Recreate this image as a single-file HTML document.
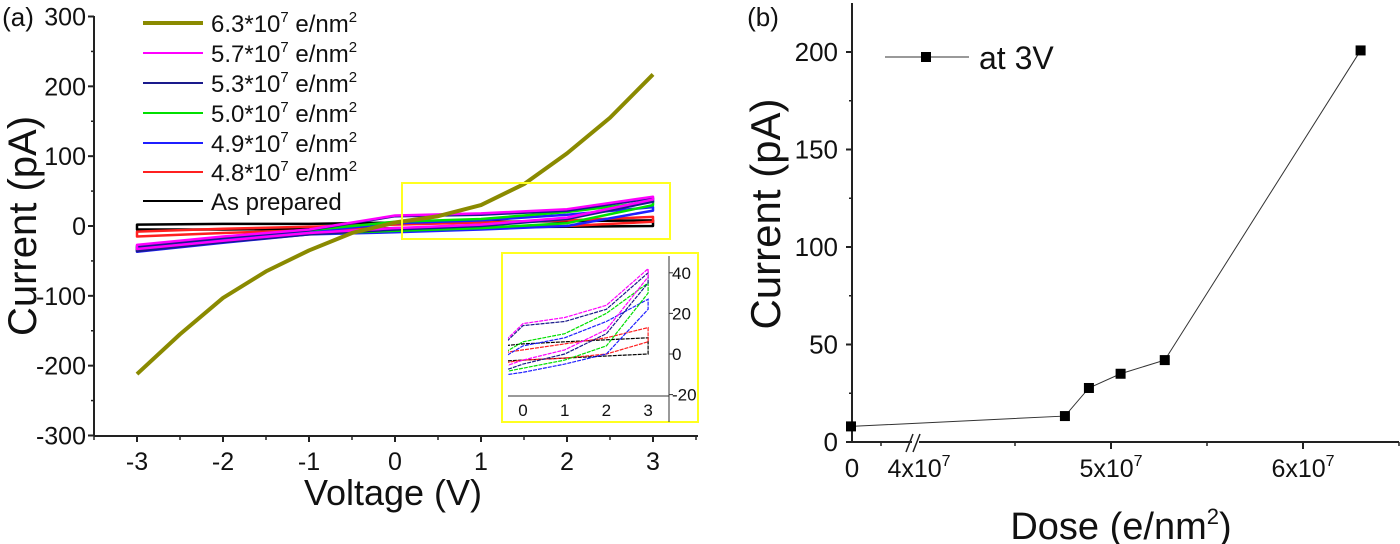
<!DOCTYPE html>
<html><head><meta charset="utf-8"><style>
body{margin:0;background:#fff}
svg{display:block;font-family:"Liberation Sans",Arial,sans-serif}
</style></head><body>
<svg id="s" width="1400" height="544" viewBox="0 0 1400 544">
<g id="gA"></g>
<g id="gB"></g>
</svg>
<script>
// ---- Panel (a) data ----
const volts = [-3,-2,-1,0,1,2,3];
const seriesNames = ["6.3*10^7","5.7*10^7","5.3*10^7","5.0*10^7","4.9*10^7","4.8*10^7","As prepared"];
const seriesColors = ["#8a8a00","#ff00ff","#1a1a8c","#00e000","#1f1fff","#ff2020","#000000"];
const olV = [-3,-2.5,-2,-1.5,-1,-0.5,0,0.5,1,1.5,2,2.5,3];
const olI = [-212,-155,-103,-65,-35,-10,5,14,30,60,104,155,217];
const magUp = [-27,-15,-5,15,18,24,42];
const magLo = [-33,-21,-10,-3,2,12,38];
const navUp = [-30,-17,-6,14,16,22,40];
const navLo = [-36,-23,-12,-5,0,10,35];
const grnUp = [-28,-16,-6,6,10,20,35];
const grnLo = [-35,-22,-11,-7,-3,4,30];
const bluUp = [-30,-18,-8,4,8,16,27];
const bluLo = [-37,-24,-12,-9,-5,0,22];
const redUp = [-8,-4,-1,2,5,8,13];
const redLo = [-15,-10,-6,-3,-2,0,6];
const blkUp = [2,3,3,5,6,7,8];
const blkLo = [-5,-5,-4,-3,-2,-1,0];
const yTicksA = [300,200,100,0,-100,-200,-300];
const xTicksA = [-3,-2,-1,0,1,2,3];
const insetYTicks = [40,20,0,-20];
const insetXTicks = [0,1,2,3];
// ---- Panel (b) data ----
const doses = [0,4.76,4.885,5.05,5.28,6.3];
const currents = [8,13.3,27.7,35,42,200.8];
const yTicksB = [0,50,100,150,200];

const NS="http://www.w3.org/2000/svg";
function mk(tag,attrs,parent,name,inter){const e=document.createElementNS(NS,tag);for(const k in attrs)e.setAttribute(k,attrs[k]);


parent.appendChild(e);return e;}
function txt(x,y,s,size,anchor,parent,name,extra){const t=mk('text',Object.assign({x:x,y:y,'font-size':size,'text-anchor':anchor||'middle',fill:'#111'},extra||{}),parent,name,false);t.innerHTML=s;return t;}
const NAR={'font-family':'"Liberation Sans Narrow","Liberation Sans",sans-serif'};

const A=document.getElementById('gA');
const xA=v=>395+v*86, yA=i=>226-i*0.6983;
mk('line',{x1:94,y1:16,x2:94,y2:436,stroke:'#222','stroke-width':2},A,'y-axis-line',false);
mk('line',{x1:94,y1:436,x2:698,y2:436,stroke:'#222','stroke-width':2},A,'x-axis-line',false);
yTicksA.forEach(v=>{const y=yA(v);mk('line',{x1:88,y1:y,x2:94,y2:y,stroke:'#222','stroke-width':2},A,'y-tick',false);
txt(86,y+9,String(v),25,'end',A,'y-tick-label',NAR);});
for(let v=-250;v<300;v+=100){const y=yA(v);mk('line',{x1:91,y1:y,x2:94,y2:y,stroke:'#222','stroke-width':1.5},A,'y-minor-tick',false);}
xTicksA.forEach(v=>{const x=xA(v);mk('line',{x1:x,y1:436,x2:x,y2:442,stroke:'#222','stroke-width':2},A,'x-tick',false);
txt(x,470,String(v),25,'middle',A,'x-tick-label',NAR);});
for(let v=-3.5;v<=3.5;v+=1){const x=xA(v);mk('line',{x1:x,y1:436,x2:x,y2:440,stroke:'#222','stroke-width':1.5},A,'x-minor-tick',false);}
txt(393,505,'Voltage (V)',36,'middle',A,'x-axis-title');
txt(0,0,'Current (pA)',40,'middle',A,'y-axis-title',{transform:'translate(36,226) rotate(-90)'});
txt(18,26,'(a)',26,'middle',A,'panel-label-a',NAR);

const loops=[[magUp,magLo],[navUp,navLo],[grnUp,grnLo],[bluUp,bluLo],[redUp,redLo],[blkUp,blkLo]];
function loopPath(up,lo,fx,fy){let d='';volts.forEach((v,i)=>{d+=(i?'L':'M')+fx(v).toFixed(1)+','+fy(lo[i]).toFixed(1);});
for(let i=volts.length-1;i>=0;i--){d+='L'+fx(volts[i]).toFixed(1)+','+fy(up[i]).toFixed(1);}return d+'Z';}
const order=[5,4,3,2,1,0];
order.forEach(k=>{const [u,l]=loops[k];mk('path',{d:loopPath(u,l,xA,yA),fill:'none',stroke:seriesColors[k+1],'stroke-width':2.5,'stroke-linejoin':'round'},A,'iv-loop-'+(k+1),false);});
let od='';olV.forEach((v,i)=>{od+=(i?'L':'M')+xA(v)+','+yA(olI[i]);});
mk('path',{d:od,fill:'none',stroke:seriesColors[0],'stroke-width':4,'stroke-linejoin':'round'},A,'iv-curve-6.3e7',false);
mk('rect',{x:402,y:183,width:268,height:56,fill:'none',stroke:'#ffff20','stroke-width':2},A,'zoom-region-box',false);
const legY=[23,53,83,113,143,172,201];
seriesNames.forEach((n,i)=>{const y=legY[i];
mk('line',{x1:143,y1:y,x2:203,y2:y,stroke:seriesColors[i],'stroke-width':i==0?4:2},A,'legend-line',false);
const lab=i==6?'As prepared':n.replace('^7','<tspan font-size="15" dy="-10">7</tspan><tspan dy="10"> e/nm</tspan><tspan font-size="15" dy="-10">2</tspan>');
txt(211,y+9,lab,24,'start',A,'legend-entry');});
// inset
const I=mk('g',{},A,'inset',false);
mk('rect',{x:502,y:253,width:196,height:169,fill:'#fff',stroke:'#ffff20','stroke-width':2},I,'inset-frame',false);
const xI=v=>523+v*41.7, yI=c=>354-c*2.03;
const cp=mk('clipPath',{id:'ic'},I,'inset-clip',false);
mk('rect',{x:508,y:258,width:161,height:136},cp,'inset-clip-rect',false);
const IC=mk('g',{'clip-path':'url(#ic)'},I,'inset-plot',false);
order.forEach(k=>{const [u,l]=loops[k];mk('path',{d:loopPath(u,l,xI,yI),fill:'none',stroke:seriesColors[k+1],'stroke-width':1.2,'stroke-dasharray':'4 1'},IC,'inset-loop-'+(k+1),false);});
mk('line',{x1:669,y1:256,x2:669,y2:422,stroke:'#333','stroke-width':1},I,'inset-y-axis',false);
mk('line',{x1:508,y1:396,x2:669,y2:396,stroke:'#333','stroke-width':1},I,'inset-x-axis',false);
insetYTicks.forEach(v=>{txt(672,yI(v)+6,String(v),17,'start',I,'inset-y-label',NAR);mk('line',{x1:669,y1:yI(v),x2:673,y2:yI(v),stroke:'#333'},I,'inset-y-tick',false);});
insetXTicks.forEach(v=>{txt(xI(v),416,String(v),17,'middle',I,'inset-x-label',NAR);});

// ---- Panel b ----
const B=document.getElementById('gB');
const yB=c=>442-c*1.95;
const xB=d=>d<1?851+d*600:919+(d-4)*192;
mk('line',{x1:852,y1:3,x2:852,y2:442,stroke:'#222','stroke-width':2},B,'y-axis-line-b',false);
mk('line',{x1:852,y1:442,x2:912,y2:442,stroke:'#222','stroke-width':2},B,'x-axis-line-b-left',false);
mk('line',{x1:919,y1:442,x2:1399,y2:442,stroke:'#222','stroke-width':2},B,'x-axis-line-b-right',false);
mk('line',{x1:906,y1:452,x2:913,y2:434,stroke:'#222','stroke-width':1.5},B,'axis-break-1',false);
mk('line',{x1:913,y1:452,x2:920,y2:434,stroke:'#222','stroke-width':1.5},B,'axis-break-2',false);
yTicksB.forEach(v=>{const y=yB(v);mk('line',{x1:846,y1:y,x2:852,y2:y,stroke:'#222','stroke-width':2},B,'y-tick-b',false);
txt(838,y+9,String(v),26,'end',B,'y-tick-label-b',NAR);});
for(let v=25;v<225;v+=50){mk('line',{x1:849,y1:yB(v),x2:852,y2:yB(v),stroke:'#222','stroke-width':1.5},B,'y-minor-tick-b',false);}
[[4,'4x10'],[5,'5x10'],[6,'6x10']].forEach(([d,l])=>{const x=xB(d);if(d>4)mk('line',{x1:x,y1:442,x2:x,y2:449,stroke:'#222','stroke-width':2},B,'x-tick-b',false);
txt(x,477,l+'<tspan font-size="16" dy="-11">7</tspan>',25,'middle',B,'x-tick-label-b',NAR);});
[4.5,5.5,6.5].forEach(d=>mk('line',{x1:xB(d),y1:442,x2:xB(d),y2:446,stroke:'#222','stroke-width':1.5},B,'x-minor-tick-b',false));
mk('line',{x1:881,y1:442,x2:881,y2:446,stroke:'#222','stroke-width':1.5},B,'x-minor-tick-b',false);
txt(852,477,'0',26,'middle',B,'x-tick-label-b',NAR);
let pd='';doses.forEach((d,i)=>{pd+=(i?'L':'M')+xB(d)+','+yB(currents[i]);});
mk('path',{d:pd,fill:'none',stroke:'#333','stroke-width':1},B,'dose-line',false);
doses.forEach((d,i)=>mk('rect',{x:xB(d)-5,y:yB(currents[i])-5,width:10,height:10,fill:'#000'},B,'dose-point',false));
mk('line',{x1:885,y1:57,x2:969,y2:57,stroke:'#333','stroke-width':1},B,'legend-line-b',false);
mk('rect',{x:921,y:52,width:10,height:10,fill:'#000'},B,'legend-marker-b',false);
txt(979,69,'at 3V',32,'start',B,'legend-entry-b');
txt(1121,539,'Dose (e/nm<tspan font-size="22" dy="-15">2</tspan><tspan dy="15">)</tspan>',38,'middle',B,'x-axis-title-b');
txt(0,0,'Current (pA)',42,'middle',B,'y-axis-title-b',{transform:'translate(780,214) rotate(-90)'});
txt(763,26,'(b)',26,'middle',B,'panel-label-b',NAR);
</script>
</body></html>
